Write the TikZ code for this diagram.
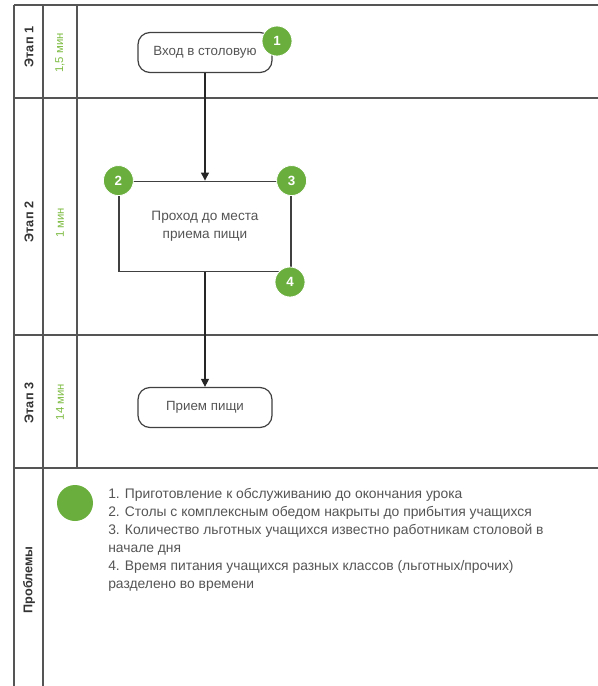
\documentclass[tikz,border=0pt]{standalone}
\usepackage{fontspec}
\setmainfont{Liberation Sans}
\usetikzlibrary{arrows.meta,positioning}
\definecolor{lanegray}{HTML}{555555}
\definecolor{txtgray}{HTML}{555555}
\definecolor{mygreen}{HTML}{6AAF3E}
\definecolor{timegreen}{HTML}{7DBB42}
\tikzset{
  lane/.style={draw=lanegray,line width=1.2pt},
  stagelbl/.style={rotate=90,font=\bfseries\fontsize{9.5}{11}\selectfont,text=black!80},
  timelbl/.style={rotate=90,font=\fontsize{8.5}{10}\selectfont,text=timegreen},
  procbox/.style={draw=black!75,line width=0.9pt,rounded corners=9pt,minimum width=100.5pt,minimum height=30pt,font=\fontsize{10}{12}\selectfont,text=txtgray,fill=white},
  actbox/.style={draw=black!75,line width=0.9pt,minimum width=129pt,minimum height=68pt,font=\fontsize{10.2}{13.5}\selectfont,text=txtgray,align=center,fill=white},
  badge/.style={circle,fill=mygreen,draw=white,line width=0.6pt,minimum size=22.5pt,inner sep=0pt,text=white,font=\bfseries\fontsize{10}{12}\selectfont},
  flow/.style={draw=black!85,line width=0.9pt,-{Triangle[length=6pt,width=6pt]}}
}
\begin{document}
\begin{tikzpicture}[x=0.75pt,y=-0.75pt]
\useasboundingbox (0,0) rectangle (598,686);
% lanes
\draw[lane] (14,5) -- (598,5);
\draw[lane] (14,98) -- (598,98);
\draw[lane] (14,335) -- (598,335);
\draw[lane] (14,468) -- (598,468);
\draw[lane] (14,5) -- (14,686);
\draw[lane] (43,5) -- (43,686);
\draw[lane] (77,5) -- (77,468);
% stage labels
\node[stagelbl] (s1) at (29,47) {Этап 1};
\node[stagelbl] (s2) at (29,222) {Этап 2};
\node[stagelbl] (s3) at (29,403) {Этап 3};
\node[stagelbl] (s4) at (29,580) {Проблемы};
\node[timelbl] (t1) at (60,53) {1,5 мин};
\node[timelbl] (t2) at (60,223) {1 мин};
\node[timelbl] (t3) at (60,402) {14 мин};
% process
\node[procbox] (n1) at (205,52.5) {Вход в столовую};
\node[actbox] (n2) at (205,226.5) {Проход до места\\приема пищи};
\node[procbox] (n3) at (205,407.5) {Прием пищи};
\draw[flow] (n1.south) -- (n2.north);
\draw[flow] (n2.south) -- (n3.north);
% badges
\node[badge] (b1) at (277,41) {1};
\node[badge] (b2) at (n2.north west) {2};
\node[badge] (b3) at (n2.north east) {3};
\node[badge] (b4) at (290,282) {4};
% problems
\node[circle,fill=mygreen,minimum size=27pt,inner sep=0pt] (pc) at (75,503) {};
\node[anchor=north west,inner sep=0pt,align=left,text=txtgray,font=\fontsize{10.4}{13.5}\selectfont] (plist) at (108,488)
{1. Приготовление к обслуживанию до окончания урока\\
2. Столы с комплексным обедом накрыты до прибытия учащихся\\
3. Количество льготных учащихся известно работникам столовой в\\
начале дня\\
4. Время питания учащихся разных классов (льготных/прочих)\\
разделено во времени};
\end{tikzpicture}
\end{document}
